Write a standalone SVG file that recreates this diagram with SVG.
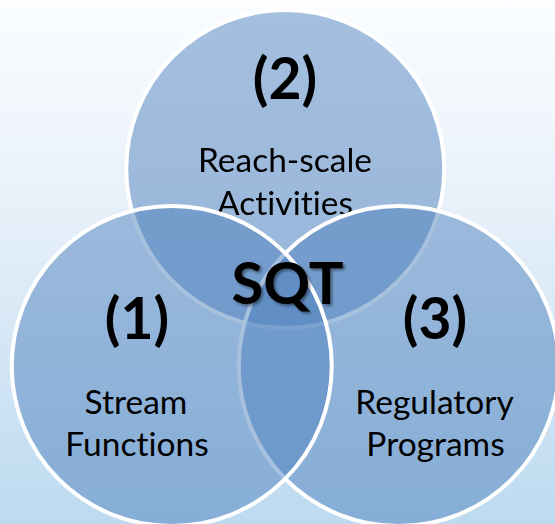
<svg xmlns="http://www.w3.org/2000/svg" width="555" height="524" viewBox="0 0 555 524">
  <defs>
    <linearGradient id="bg" x1="0" y1="0" x2="0" y2="1">
      <stop offset="0" stop-color="#FBFDFF"/>
      <stop offset="0.35" stop-color="#EAF2FA"/>
      <stop offset="1" stop-color="#BDDAF0"/>
    </linearGradient>
    <!-- hides the part of the top label that lies under the two lower circles -->
    <mask id="under-lower" maskUnits="userSpaceOnUse" x="0" y="0" width="555" height="524">
      <rect x="0" y="0" width="555" height="524" fill="#fff"/>
      <circle cx="171.75" cy="366" r="160" fill="#000"/>
      <circle cx="398.75" cy="366" r="160" fill="#000"/>
    </mask>
    <filter id="soft-shadow" x="-20%" y="-20%" width="140%" height="140%">
      <feGaussianBlur in="SourceAlpha" stdDeviation="1.8"/>
      <feOffset dx="1.5" dy="2" result="b"/>
      <feComponentTransfer><feFuncA type="linear" slope="0.45"/></feComponentTransfer>
      <feMerge><feMergeNode/><feMergeNode in="SourceGraphic"/></feMerge>
    </filter>
  </defs>
  <style>
    .set { fill: #4F81BD; fill-opacity: 0.5; stroke: #FFFFFF; stroke-width: 4; }
    text { font-family: Lato, "Open Sans", sans-serif; fill: #000; text-anchor: middle; font-variant-ligatures: none; }
    .num { font-weight: 700; font-size: 57px; }
    .lbl { font-size: 33.5px; }
    .core { font-weight: 700; font-size: 58px; }
  </style>

  <rect x="0" y="0" width="555" height="524" fill="url(#bg)"/>

  <g id="reach-scale-activities">
    <circle class="set" cx="285.25" cy="169" r="159"/>
    <g mask="url(#under-lower)">
      <text class="num" x="285" y="99">(2)</text>
      <text class="lbl" x="285" y="172">Reach-scale</text>
      <text class="lbl" x="285" y="215">Activities</text>
    </g>
  </g>

  <g id="regulatory-programs">
    <circle class="set" cx="398.75" cy="366" r="160"/>
    <text class="num" x="435" y="339">(3)</text>
    <text class="lbl" x="434.5" y="414">Regulatory</text>
    <text class="lbl" x="435.5" y="456">Programs</text>
  </g>

  <g id="stream-functions">
    <circle class="set" cx="171.75" cy="366" r="160"/>
    <text class="num" x="137" y="339">(1)</text>
    <text class="lbl" x="136" y="414">Stream</text>
    <text class="lbl" x="137" y="456">Functions</text>
  </g>

  <g id="sqt">
    <text class="core" x="287.5" y="304" filter="url(#soft-shadow)">SQT</text>
  </g>

  <g id="connectors"/>
</svg>
